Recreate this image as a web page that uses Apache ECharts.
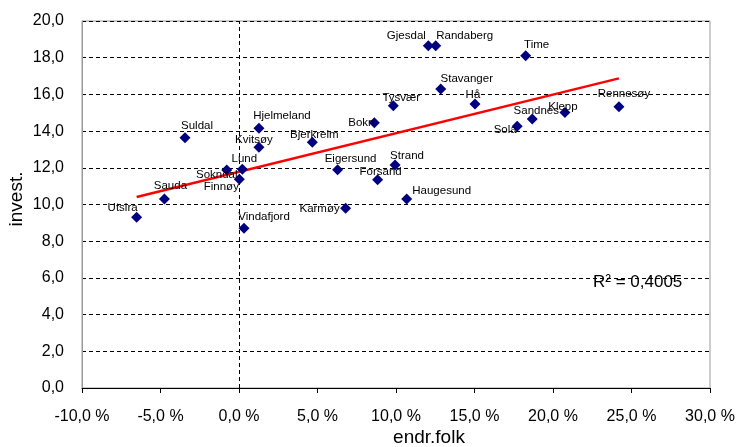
<!DOCTYPE html>
<html><head><meta charset="utf-8">
<script src="https://cdn.jsdelivr.net/npm/echarts@6/dist/echarts.min.js"></script>
<style>html,body{margin:0;padding:0;background:#fff}#c{width:738px;height:447px}</style>
</head><body><div id="c"></div>
<script>
const names = ["Utsira","Sauda","Suldal","Sokndal","Finnøy","Lund","Vindafjord","Hjelmeland","Kvitsøy","Bjerkreim","Eigersund","Karmøy","Bokn","Forsand","Tysvær","Strand","Haugesund","Gjesdal","Randaberg","Stavanger","Hå","Sola","Sandnes","Time","Klepp","Rennesøy"];
const endrFolk = [-6.52,-4.75,-3.44,-0.78,0.02,0.21,0.32,1.27,1.27,4.67,6.28,6.79,8.62,8.83,9.83,9.94,10.68,12.06,12.53,12.85,15.03,17.72,18.68,18.26,20.76,24.20];
const invest = [9.30,10.30,13.64,11.88,11.37,11.92,8.70,14.15,13.12,13.39,11.90,9.79,14.46,11.35,15.38,12.15,10.30,18.65,18.65,16.29,15.48,14.26,14.66,18.11,15.02,15.33];
const xTitle = "endr.folk";
const yTitle = "invest.";
const rSquaredText = "R² = 0,4005";

// label layout (pixel offsets from marker), kept apart from the data
const labelOffsets = {
  "Utsira":[-14,-10],"Sauda":[6,-13],"Suldal":[12,-12],"Sokndal":[-10,5],"Finnøy":[-18,7],
  "Lund":[2,-10],"Vindafjord":[20,-12],"Hjelmeland":[23,-13],"Kvitsøy":[-5,-7],"Bjerkreim":[2,-7],
  "Eigersund":[13,-11],"Karmøy":[-26,0],"Bokn":[-13,0],"Forsand":[3,-8],"Tysvær":[8,-8],
  "Strand":[12,-9],"Haugesund":[35,-8],"Gjesdal":[-22,-10],"Randaberg":[29,-10],"Stavanger":[26,-10],
  "Hå":[-2,-9],"Sola":[-12,3],"Sandnes":[4,-8],"Time":[11,-11],"Klepp":[-2,-6],"Rennesøy":[5,-13]
};

// linear regression trendline from the data
const n = endrFolk.length;
const mx = endrFolk.reduce((a,b)=>a+b,0)/n;
const my = invest.reduce((a,b)=>a+b,0)/n;
let sxy=0,sxx=0;
for(let i=0;i<n;i++){sxy+=(endrFolk[i]-mx)*(invest[i]-my);sxx+=(endrFolk[i]-mx)**2;}
const slope=sxy/sxx, icpt=my-slope*mx;
const xMin=Math.min(...endrFolk), xMax=Math.max(...endrFolk);
const trend=[[xMin,icpt+slope*xMin],[xMax,icpt+slope*xMax]];

const fmt = v => v.toFixed(1).replace('.',',');
const font = "'Liberation Sans', Arial, sans-serif";
const narrow = "'Liberation Sans Narrow', 'Arial Narrow', 'Liberation Sans', sans-serif";

const chart = echarts.init(document.getElementById('c'));
chart.setOption({
  animation:false,
  textStyle:{fontFamily:font},
  grid:{left:82,right:28,top:21,bottom:59,show:true,borderColor:'#999',borderWidth:1},
  xAxis:{type:'value',min:-10,max:30,interval:5,
    axisLine:{onZero:false,lineStyle:{color:'#000',width:1}},
    axisTick:{show:true,length:5,inside:false,lineStyle:{color:'#000'}},
    axisLabel:{formatter:v=>fmt(v)+' %',fontSize:16,color:'#000',margin:21,fontFamily:font},
    splitLine:{show:false}},
  yAxis:{type:'value',min:0,max:20,interval:2,
    axisLine:{onZero:false,show:true,lineStyle:{color:'#999'}},
    axisTick:{show:false},
    axisLabel:{formatter:v=>fmt(v),fontSize:16,color:'#000',margin:18,fontFamily:font},
    splitLine:{show:true,lineStyle:{color:'#000',type:[4,3],width:1}}},
  series:[
    {type:'line',data:trend,showSymbol:false,symbol:'none',
     lineStyle:{color:'#ff0000',width:2.5},z:3,silent:true,
     markLine:{silent:true,symbol:'none',label:{show:false},
       lineStyle:{color:'#000',type:[4,3],width:1},data:[{xAxis:0}]}},
    {type:'scatter',symbol:'diamond',symbolSize:11,z:4,
     itemStyle:{color:'#000080',opacity:1},
     data:names.map((nm,i)=>({name:nm,value:[endrFolk[i],invest[i]],
       label:{offset:labelOffsets[nm]}})),
     label:{show:true,position:'inside',formatter:p=>p.name,fontSize:11.5,color:'#000',fontFamily:narrow}}
  ],
  graphic:[
    {type:'text',left:593,top:274,style:{text:rSquaredText,font:'17px '+font,fill:'#000'}},
    {type:'text',x:429,y:438,style:{text:xTitle,font:'19px '+font,fill:'#000',align:'center',verticalAlign:'middle'}},
    {type:'text',x:17,y:199,rotation:Math.PI/2,style:{text:yTitle,font:'19px '+font,fill:'#000',align:'center',verticalAlign:'middle'}}
  ]
});
</script></body></html>
